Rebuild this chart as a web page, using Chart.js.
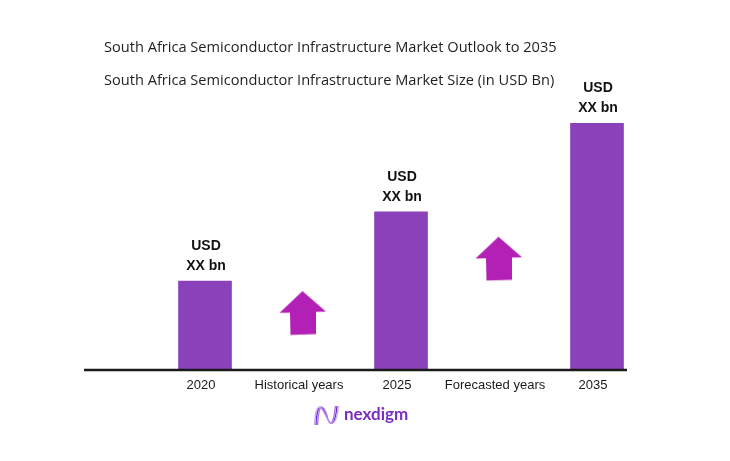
<!DOCTYPE html>
<html><head><meta charset="utf-8">
<script src="https://cdn.jsdelivr.net/npm/chart.js@4.4.0/dist/chart.umd.min.js"></script>
<style>html,body{margin:0;padding:0;background:#fff;}#wrap{width:730px;height:461px;}</style>
</head><body><div id="wrap"><canvas id="c" width="730" height="461"></canvas></div>
<script>
// ---- data ----
const titleText = "South Africa Semiconductor Infrastructure Market Outlook to 2035";
const subtitleText = "South Africa Semiconductor Infrastructure Market Size (in USD Bn)";
const categories = ["2020", "Historical years", "2025", "Forecasted years", "2035"];
const marketSize = [3.6, null, 6.4, null, 10.0];
const valueLabelTop = ["USD", null, "USD", null, "USD"];
const valueLabelBottom = ["XX bn", null, "XX bn", null, "XX bn"];
const growthArrowLevel = [null, 2.3, null, 4.5, null];
const brandName = "nexdigm";

// ---- styles ----
const BAR_COLOR = "#8a41ba";
const ARROW_COLOR = "#b220b5";
const TEXT_COLOR = "#1f1f1f";

function makeArrow() {
  const c = document.createElement("canvas");
  c.width = 48; c.height = 45;
  const g = c.getContext("2d");
  g.fillStyle = ARROW_COLOR;
  g.beginPath();
  g.moveTo(23.5, 0.5);
  g.lineTo(47, 21);
  g.lineTo(37, 21.2);
  g.lineTo(37, 43.5);
  g.lineTo(11.5, 44.2);
  g.lineTo(11, 22);
  g.lineTo(0.5, 22.3);
  g.closePath();
  g.fill();
  return c;
}
const arrowImg = makeArrow();

const decorPlugin = {
  id: "decor",
  beforeDraw(chart) {
    const ctx = chart.ctx;
    ctx.save();
    ctx.fillStyle = "#ffffff";
    ctx.fillRect(0, 0, chart.width, chart.height);
    ctx.fillStyle = TEXT_COLOR;
    ctx.font = "14.6px 'Open Sans'";
    ctx.textBaseline = "middle";
    ctx.textAlign = "left";
    ctx.fillText(titleText, 104, 48);
    ctx.fillText(subtitleText, 104, 81);
    ctx.restore();
  },
  afterDatasetsDraw(chart) {
    const ctx = chart.ctx;
    const y0 = chart.scales.y.getPixelForValue(0);
    ctx.save();
    // baseline
    ctx.strokeStyle = "#1a1a1a";
    ctx.lineWidth = 2.5;
    ctx.beginPath();
    ctx.moveTo(84, y0);
    ctx.lineTo(627, y0);
    ctx.stroke();
    // value labels over bars
    const meta = chart.getDatasetMeta(1);
    ctx.fillStyle = "#111";
    ctx.font = "bold 14px 'Liberation Sans'";
    ctx.textAlign = "center";
    ctx.textBaseline = "middle";
    meta.data.forEach((bar, i) => {
      if (marketSize[i] == null) return;
      ctx.fillText(valueLabelBottom[i], bar.x + 1, bar.y - 14.5);
      ctx.fillText(valueLabelTop[i], bar.x + 1, bar.y - 34.5);
    });
    // brand logo
    ctx.lineWidth = 1.3;
    const strokes = [["#6a2bd8", 0], ["#a56ee8", 1.6], ["#c9a3f0", -1.4]];
    strokes.forEach(([col, d]) => {
      ctx.strokeStyle = col;
      ctx.beginPath();
      ctx.moveTo(316 + d, 425);
      ctx.bezierCurveTo(317 + d, 404, 321 + d, 403, 326 + d * 0.5, 415);
      ctx.bezierCurveTo(330 - d * 0.5, 427, 335 - d, 427, 337 - d, 406);
      ctx.stroke();
    });
    ctx.fillStyle = "#7a2dbf";
    ctx.font = "bold 17px 'Lato'";
    ctx.textAlign = "left";
    ctx.textBaseline = "middle";
    ctx.fillText(brandName, 344, 415);
    ctx.restore();
  }
};

new Chart(document.getElementById("c"), {
  type: "bar",
  data: {
    labels: categories,
    datasets: [
      {
        type: "line",
        data: growthArrowLevel,
        showLine: false,
        pointStyle: arrowImg,
        pointRadius: 20,
        order: 0
      },
      {
        data: marketSize,
        backgroundColor: BAR_COLOR,
        barThickness: 53,
        order: 1
      }
    ]
  },
  options: {
    responsive: false,
    animation: false,
    devicePixelRatio: 1,
    layout: { padding: { left: 156, right: 84, top: 123, bottom: 59.5 } },
    plugins: { legend: { display: false }, tooltip: { enabled: false } },
    scales: {
      x: {
        offset: true,
        grid: { display: false, drawTicks: false },
        border: { display: false },
        ticks: {
          color: "#1a1a1a",
          font: { family: "'Liberation Sans'", size: 13 },
          padding: 8,
          labelOffset: -4,
          maxRotation: 0,
          autoSkip: false
        }
      },
      y: { display: false, min: 0, max: 10 }
    }
  },
  plugins: [decorPlugin]
});
</script>
</body></html>
